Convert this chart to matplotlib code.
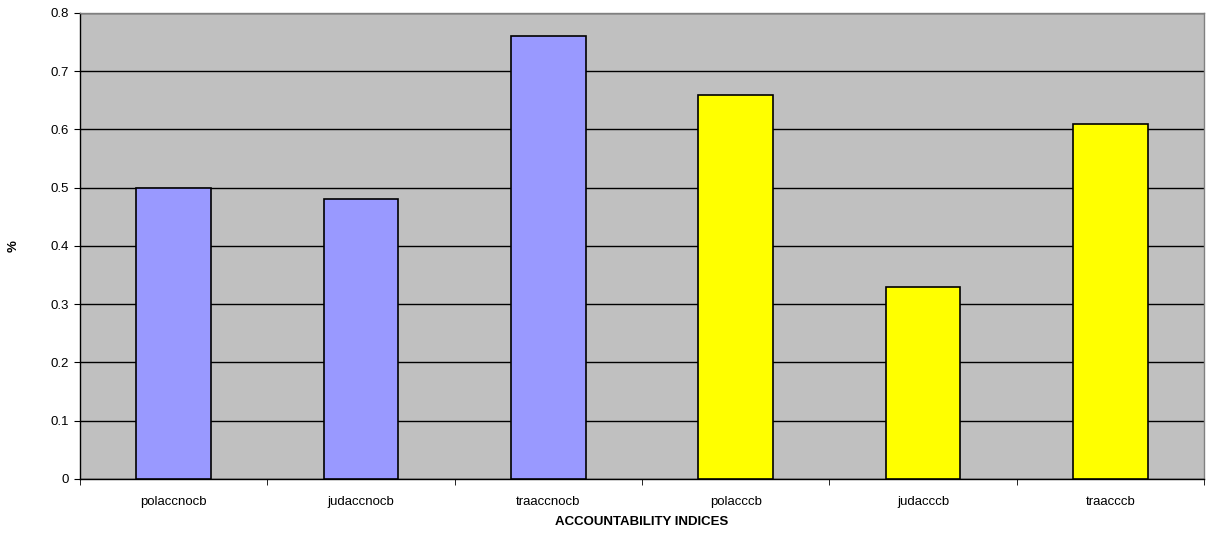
import matplotlib
matplotlib.use("Agg")
import matplotlib.pyplot as plt
from matplotlib.ticker import MultipleLocator, FixedLocator, FormatStrFormatter

categories = ["polaccnocb", "judaccnocb", "traaccnocb", "polacccb", "judacccb", "traacccb"]
values = [0.50, 0.48, 0.76, 0.66, 0.33, 0.61]
colors = ["#9999FF", "#9999FF", "#9999FF", "#FFFF00", "#FFFF00", "#FFFF00"]

plt.rcParams["font.family"] = ["Liberation Sans", "DejaVu Sans"]

fig = plt.figure(figsize=(12.08, 5.34), dpi=100)
ax = fig.add_axes([0.0662, 0.103, 0.9305, 0.8727])
ax.set_facecolor("#C0C0C0")

x = list(range(len(categories)))
ax.bar(x, values, width=0.4, color=colors, edgecolor="black", linewidth=1.2, zorder=3)

ax.set_xlim(-0.5, len(categories) - 0.5)
ax.set_ylim(0, 0.8)
ax.yaxis.set_major_locator(MultipleLocator(0.1))
ax.yaxis.set_major_formatter(matplotlib.ticker.FuncFormatter(lambda v, p: "0" if abs(v) < 1e-9 else f"{v:.1f}"))
ax.grid(axis="y", color="black", linewidth=1.0, zorder=1)

ax.set_xticks(x)
ax.set_xticklabels(categories)
ax.xaxis.set_minor_locator(FixedLocator([i + 0.5 for i in range(-1, len(categories))]))
ax.tick_params(axis="x", which="major", length=0, pad=12, labelsize=9.5)
ax.tick_params(axis="x", which="minor", length=4, direction="out", color="black")
ax.tick_params(axis="y", length=4, direction="out", labelsize=9.5, pad=4)

for side in ("left", "bottom"):
    ax.spines[side].set_color("black")
    ax.spines[side].set_linewidth(1.0)
for side in ("top", "right"):
    ax.spines[side].set_color("#808080")
    ax.spines[side].set_linewidth(1.0)

ax.set_xlabel("ACCOUNTABILITY INDICES", fontsize=9.5, fontweight="bold", labelpad=6)
ax.set_ylabel("%", fontsize=9.5, fontweight="bold", labelpad=22)

fig.savefig("out.png", dpi=100)
